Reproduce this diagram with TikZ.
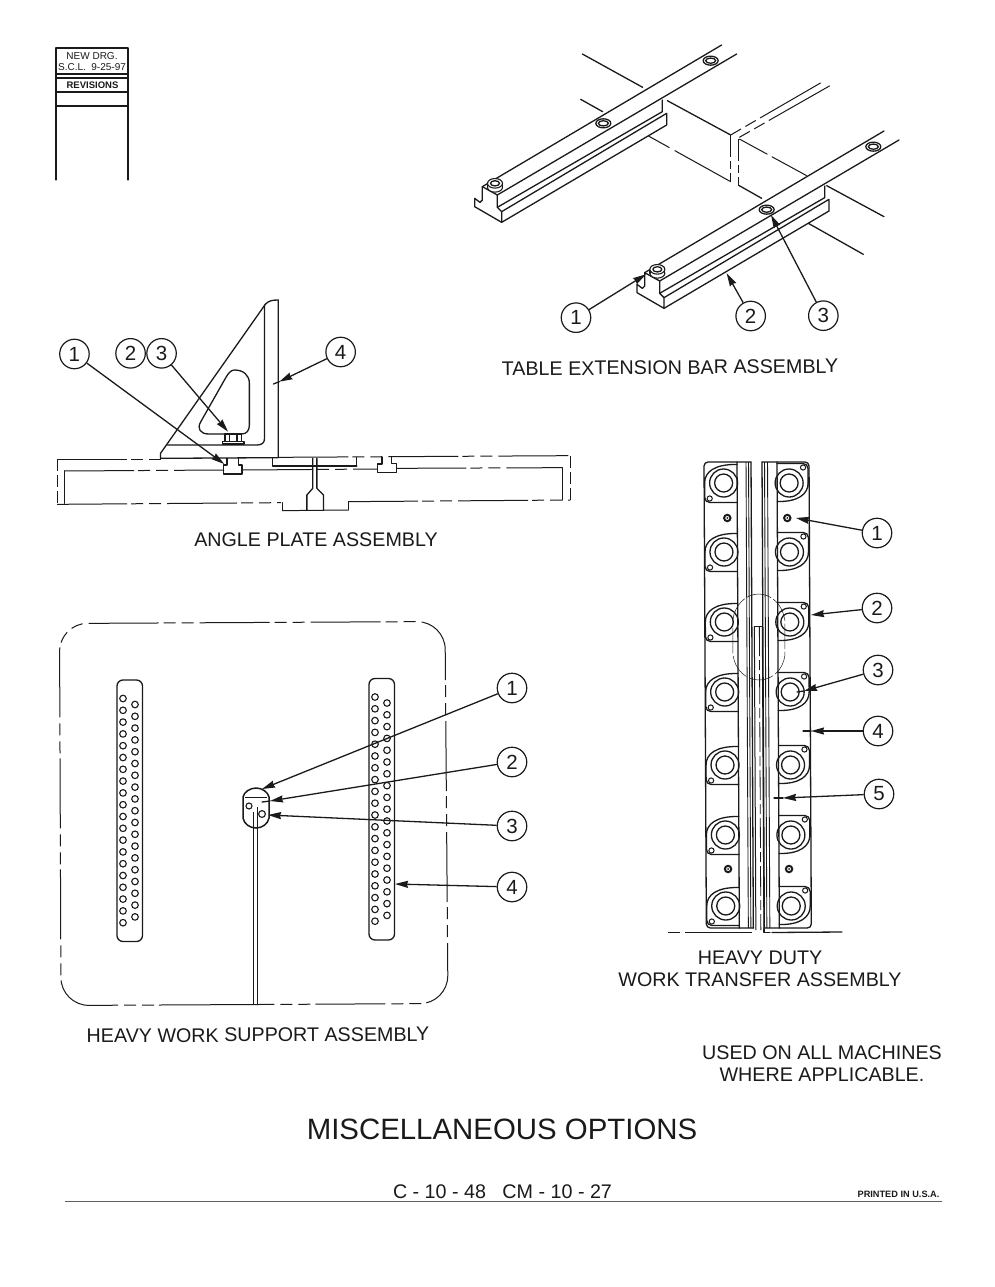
\documentclass[tikz,border=0pt]{standalone}
\usepackage{fontspec}
\setmainfont{Liberation Sans}
\usetikzlibrary{arrows.meta}
\definecolor{ink}{HTML}{1A1A1A}
\tikzset{
 ln/.style={draw=ink,line width=1.3pt,line join=round,line cap=round},
 thin1/.style={draw=ink,line width=.9pt},
 hid/.style={draw=ink,line width=1pt,dash pattern=on 70pt off 4pt on 12pt off 6pt on 12pt off 6pt},
 hidr/.style={draw=ink,line width=1pt,dash pattern=on 12pt off 5pt on 12pt off 5pt on 70pt off 5pt},
 hidv/.style={draw=ink,line width=1pt,dash pattern=on 12pt off 4pt},
 hidb/.style={draw=ink,line width=1pt,dash pattern=on 70pt off 5pt on 12pt off 6pt on 12pt off 6pt},
 lead/.style={draw=ink,line width=1.3pt,-{Stealth[length=13pt,width=7pt,inset=1pt]}},
 num/.style={circle,draw=ink,line width=1.2pt,minimum size=29.5pt,inner sep=0pt,font=\fontsize{20.5}{20.5}\selectfont,text=ink},
 lab/.style={text=ink,font=\fontsize{19.7}{20}\selectfont,inner sep=0pt,align=center},
 hole/.style={draw=ink,line width=1.1pt,fill=white},
}
\newcommand{\railshape}{%
 \draw[ln] (67,440)--(785,15) (112,465)--(830,42);
 \draw[ln] (67,440)--(112,465)--(112,502)--(125,515)--(125,547)--(44,500)--(44,475)--(60,487)--(67,480)--(67,440);
 \draw[ln] (112,502)--(607,215)--(607,180);
 \draw[ln] (125,515)--(620,220)--(620,255)--(125,547);
 \filldraw[hole] (105,442) ellipse [x radius=7.5pt,y radius=4.8pt];
 \fill[white] (83,430) rectangle (127,442);
 \draw[ln] (83,430)--(83,442) (127,430)--(127,442);
 \filldraw[hole] (105,430) ellipse [x radius=7.5pt,y radius=4.8pt];
 \draw[ln] (105,430) ellipse [x radius=4.5pt,y radius=2.6pt];
}
\newcommand{\railhole}[2]{%
 \draw[ln] (#1,#2) ellipse [x radius=7.5pt,y radius=4.5pt];
 \draw[draw=ink,line width=1.3pt] (#1,#2) ellipse [x radius=5pt,y radius=2.6pt];
}
% #1 centre x, #2 centre y, #3 sign, #4 distance to the rail edge
\newcommand{\wunit}[4]{%
 \begin{scope}[shift={(#1,#2)},xscale=#3,yscale=#3]
 \draw[ln,rounded corners=5pt] (-#4,-19.5)--(19,-19.5)--(19,0);
 \draw[ln] (19,0) .. controls (19,11) and (9,19) .. (-#4,18.5);
 \draw[ln] (0,0) circle [radius=14pt];
 \draw[ln] (0,0) circle [radius=9pt];
 \draw[draw=ink,line width=1pt] (14,-15.5) circle [radius=2.6pt];
 \end{scope}
}
\newcommand{\wscrew}[2]{%
 \filldraw[draw=ink,line width=2pt,fill=white] (#1,#2) circle [radius=3.2pt];
 \fill[ink] (#1,#2) circle [radius=1pt];
}
\begin{document}
\begin{tikzpicture}[x=1pt,y=-1pt]
\useasboundingbox (0,0) rectangle (995,1287);
\fill[white] (0,0) rectangle (995,1287);

% revisions box
\draw[ln] (56,180)--(56,48)--(128,48)--(128,180);
\foreach \yy in {74,78,92,106} \draw[ln] (56,\yy)--(128,\yy);
\node[lab,font=\fontsize{10}{10}\selectfont] (rv1) at (92,56) {NEW DRG.};
\node[lab,font=\fontsize{10}{10}\selectfont] (rv2) at (92,67) {S.C.L.\ \ 9-25-97};
\node[lab,font=\fontsize{9.5}{10}\selectfont\bfseries] (rv3) at (92.5,85) {REVISIONS};

% table extension bars
\begin{scope}[shift={(460,40)},x=.33333pt,y=-.33333pt]
 \draw[ln] (367,42)--(548,142) (362,178)--(428,215) (622,182)--(812,285);
 \draw[hidr] (812,285)--(1085,127) (838,292)--(1110,137);
 \draw[hidv,dash pattern=on 22pt off 4pt on 8pt off 4pt] (812,285)--(812,425) (836,297)--(836,437);
 \draw[hid,dash pattern=on 64pt off 6pt on 24pt off 6pt] (812,425)--(560,285);
 \draw[hid,dash pattern=on 32pt off 5pt on 40pt off 5pt] (838,297)--(1040,407);
 \draw[ln] (838,437)--(905,475) (1100,437)--(1272,530) (1045,550)--(1210,643);
 \railshape
 \railhole{752}{62}
 \railhole{430}{250}
 \begin{scope}[shift={(487,258)}]
  \railshape
  \railhole{753}{62}
  \railhole{433}{251}
 \end{scope}
 \coordinate (ta1) at (558,703);
 \coordinate (ta2) at (800,700);
 \coordinate (ta3) at (933,525);
 \node[num] (tn1) at (348,833) {1};
 \node[num] (tn2) at (872,828) {2};
 \node[num] (tn3) at (1090,827) {3};
\end{scope}
\draw[lead] (tn1)--(ta1);
\draw[lead] (tn2)--(ta2);
\draw[lead] (tn3)--(ta3);
\node[lab,rotate=0.5] (ttl1) at (670,367.5) {TABLE EXTENSION BAR ASSEMBLY};

% angle plate (horizontal crop scale differs from the vertical one)
\begin{scope}[shift={(40,290)},x=.34436pt,y=-.33333pt]
 \draw[ln] (350,505)--(350,490)--(655,42) .. controls (665,32) and (675,30) .. (692,30)--(692,503)--cycle;
 \draw[ln] (370,465)--(630,465) .. controls (645,465) and (652,458) .. (652,445)--(652,45);
 \draw[ln] (565,240) .. controls (590,240) and (608,255) .. (608,280)--(608,405) .. controls (608,422) and (600,432) .. (585,432)--(490,432) .. controls (465,432) and (455,415) .. (467,395)--(540,262) .. controls (548,248) and (555,240) .. (565,240)--cycle;
 \draw[ln,fill=white] (537,432) rectangle (585,455);
 \draw[ln] (550,432)--(550,455) (572,432)--(572,455);
 \draw[ln,fill=white] (530,455) rectangle (592,462);
 \draw[ln] (543,505)--(543,525)--(533,525)--(533,552)--(587,552)--(587,525)--(577,525)--(577,505);
 \draw[ln] (993,502)--(993,522)--(980,522)--(980,547)--(1035,547)--(1035,520)--(1020,520)--(1020,502);
 \draw[hid] (50,507)--(350,507);
 \draw[hidv] (50,507)--(50,643);
 \draw[hid] (50,643)--(700,638);
 \draw[hid] (70,543)--(535,540) (590,540)--(980,537) (1035,535)--(1517,533);
 \draw[ln] (72,543)--(72,640) (1517,533)--(1517,630);
 \draw[ln] (705,638)--(705,662);
 \draw[hid] (705,662)--(895,660);
 \draw[ln] (895,660)--(895,635);
 \draw[hid] (895,635)--(1540,630);
 \draw[hidv] (1540,630)--(1540,497);
 \draw[hid] (692,502)--(1540,497);
 \draw[ln] (676,505)--(676,528)--(920,528);
 \draw[hidv,dash pattern=on 8pt off 3pt] (920,500)--(920,528);
 \draw[ln] (792,505)--(792,595)--(775,615)--(775,660) (804,505)--(804,595)--(823,615)--(823,660);
 \coordinate (aa1) at (535,522);
 \coordinate (aa3) at (546,425);
 \coordinate (aa4) at (695,275);
 \coordinate (aa4e) at (678,282);
 \node[num] (an1) at (100,192) {1};
 \node[num] (an2) at (263,190) {2};
 \node[num] (an3) at (353,190) {3};
 \node[num] (an4) at (873,186) {4};
\end{scope}
\draw[lead] (an1)--(aa1);
\draw[lead] (an3)--(aa3);
\draw[lead] (an4)--(aa4);
\draw[ln] (aa4)--(aa4e);
\node[lab] (ttl2) at (316,540) {ANGLE PLATE ASSEMBLY};

% heavy work support
\draw[hidb,rounded corners=28pt] (257,1004.5)--(61,1005.5)--(59.5,623.5)--(445,621.5)--(448,1003.5)--cycle;
\foreach \xx/\yy in {117/680,369/678.5}{
 \draw[ln,rounded corners=6pt] (\xx,\yy) rectangle ++(25.5,261.5);
 \foreach \n in {0,...,19} \draw[hole,fill=none] (\xx+6,\yy+18.5+\n*11.8) circle [radius=3.3pt];
 \foreach \n in {0,...,18} \draw[hole,fill=none] (\xx+18,\yy+24.5+\n*11.8) circle [radius=3.3pt];
}
\draw[ln,line width=1.5pt] (243,797) .. controls (244,792) and (250,788) .. (256,788) .. controls (262,788) and (268,792) .. (269,797) -- (269,818) .. controls (268,824) and (262,828) .. (256,828) .. controls (250,828) and (244,824) .. (243,818)--cycle;
\draw[thin1] (245,797)--(267,797);
\draw[hole,fill=none] (249,806) circle [radius=3pt];
\draw[hole,fill=none] (262,814) circle [radius=3.4pt];
\draw[thin1] (253,812)--(253,1005) (257.5,807)--(257.5,1005);
\coordinate (ha1) at (262,789);
\coordinate (ha2) at (270,801);
\coordinate (ha2e) at (262,802);
\coordinate (ha3) at (268,815);
\coordinate (ha4) at (395,884);
\node[num] (hn1) at (512,688) {1};
\node[num] (hn2) at (512,762) {2};
\node[num] (hn3) at (512,826) {3};
\node[num] (hn4) at (512,887) {4};
\draw[lead] (hn1)--(ha1);
\draw[lead] (hn2)--(ha2);
\draw[ln] (ha2)--(ha2e);
\draw[lead] (hn3)--(ha3);
\draw[lead] (hn4)--(ha4);
\node[lab,rotate=0.3] (ttl3) at (258,1035) {HEAVY WORK SUPPORT ASSEMBLY};

% work transfer
\begin{scope}[xslant=-0.005,xshift=-2.3pt]
 \draw[ln,rounded corners=4pt] (751,462)--(704,462)--(704,928)--(751,928);
 \draw[ln,rounded corners=4pt] (762,462)--(809,462)--(809,928)--(762,928);
 \draw[ln] (751,462)--(751,928) (762,462)--(762,928);
 \draw[ln] (737,462)--(737,928) (777,462)--(777,928);
 \draw[thin1] (746,462)--(746,928) (748.5,462)--(748.5,928) (764.5,462)--(764.5,928) (767.5,462)--(767.5,928);
 \foreach \yy in {483,552,622,692,765,835,906}{
  \wunit{723.5}{\yy}{-1}{13.5}
  \wunit{789}{\yy}{1}{12}
 }
 \wscrew{727}{518}
 \wscrew{787}{518}
 \wscrew{726}{869}
 \wscrew{787}{869}
 \draw[ln,line width=.5pt,dash pattern=on 25pt off 3pt] (732,620) .. controls (734,605) and (745,594) .. (758,594) .. controls (771,594) and (782,605) .. (784,620) -- (784,655) .. controls (782,670) and (771,680) .. (758,680) .. controls (745,680) and (734,670) .. (732,655)--cycle;
 \draw[draw=ink,line width=1pt] (753.5,626)--(753.5,930) (761.5,626)--(761.5,930);
 \draw[draw=ink,line width=.8pt,dash pattern=on 30pt off 4pt on 10pt off 4pt] (758.5,626)--(758.5,930);
 \draw[thin1] (753.5,626)--(761.5,626);
\end{scope}
\draw[hid,dash pattern=on 12pt off 5pt on 70pt off 5pt] (668,932.5)--(752,932.5);
\draw[ln] (764,929)--(764,932.5)--(770,932.5);
\draw[ln] (772,932.5)--(842,932);
\coordinate (wa1) at (796,518);
\coordinate (wa2) at (811,615);
\coordinate (wa3) at (804,691);
\coordinate (wa3e) at (797,692);
\coordinate (wa4) at (811,731);
\coordinate (wa4e) at (803,731);
\coordinate (wa5) at (783,798);
\coordinate (wa5e) at (774,798);
\node[num] (wn1) at (877,533) {1};
\node[num] (wn2) at (877,608) {2};
\node[num] (wn3) at (878,670) {3};
\node[num] (wn4) at (878,731) {4};
\node[num] (wn5) at (879,794) {5};
\draw[lead] (wn1)--(wa1);
\draw[lead] (wn2)--(wa2);
\draw[lead] (wn3)--(wa3);
\draw[ln] (wa3)--(wa3e);
\draw[lead] (wn4)--(wa4);
\draw[ln] (wa4)--(wa4e);
\draw[lead] (wn5)--(wa5);
\draw[ln] (wa5)--(wa5e);
\node[lab] (ttl4) at (760,958) {HEAVY DUTY};
\node[lab] (ttl5) at (760,980) {WORK TRANSFER ASSEMBLY};

\node[lab] (nt1) at (822,1053) {USED ON ALL MACHINES};
\node[lab] (nt2) at (822,1075) {WHERE APPLICABLE.};
\node[lab,font=\fontsize{29.4}{30}\selectfont] (main) at (502,1129) {MISCELLANEOUS OPTIONS};
\node[lab] (code) at (502.5,1192) {C - 10 - 48\ \ \ CM - 10 - 27};
\node[lab,font=\fontsize{9.2}{10}\selectfont\bfseries] (prn) at (898.5,1194) {PRINTED IN U.S.A.};
\draw[draw=ink!70,line width=.7pt] (65,1201)--(942,1201);
\end{tikzpicture}
\end{document}
